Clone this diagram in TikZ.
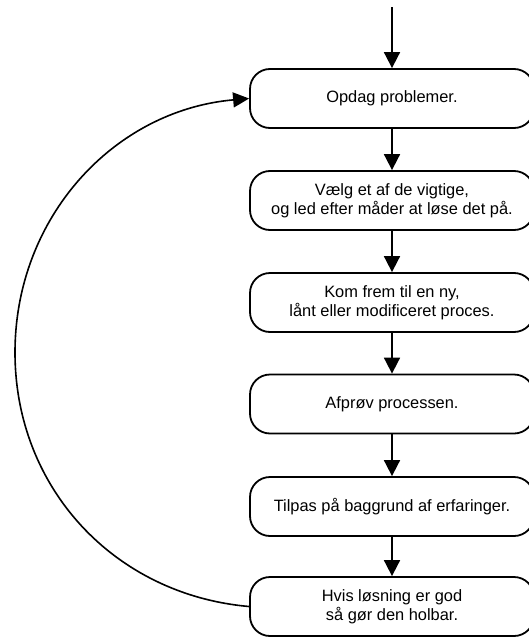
\documentclass[tikz,border=0pt]{standalone}
\usepackage{fontspec}
\setmainfont{Liberation Sans}
\usetikzlibrary{arrows.meta}
\begin{document}
\begin{tikzpicture}[x=1pt,y=-1pt,
  stepbox/.style={draw, line width=1.8pt, rounded corners=20pt,
    minimum width=284pt, minimum height=59pt, align=center,
    font=\fontsize{16.4pt}{18.6pt}\selectfont, inner sep=0pt},
  flow/.style={line width=1.8pt, -{Triangle[length=16pt,width=16pt]}},
  loop/.style={line width=1.6pt, -{Triangle[length=16pt,width=15pt]}}]
\clip (0,0) rectangle (529,637);
\useasboundingbox (0,0) rectangle (529,637);
% process steps
\node[stepbox] (b1) at (392,98.5)  {Opdag problemer.};
\node[stepbox] (b2) at (392,200.5) {Vælg et af de vigtige,\\og led efter måder at løse det på.};
\node[stepbox] (b3) at (392,302.5) {Kom frem til en ny,\\lånt eller modificeret proces.};
\node[stepbox] (b4) at (392,404)   {Afprøv processen.};
\node[stepbox] (b5) at (392,506.5) {Tilpas på baggrund af erfaringer.};
\node[stepbox] (b6) at (392,606.5) {Hvis løsning er god\\så gør den holbar.};
% entry and flow arrows
\coordinate (start) at (392,7);
\draw[flow] (start) -- (b1.north);
\draw[flow] (b1.south) -- (b2.north);
\draw[flow] (b2.south) -- (b3.north);
\draw[flow] (b3.south) -- (b4.north);
\draw[flow] (b4.south) -- (b5.north);
\draw[flow] (b5.south) -- (b6.north);
% feedback loop back to the first step
\coordinate (lft) at (15,352.5);
\draw[loop] (b6.west) to[out=175,in=-90] (lft) to[out=90,in=185] (b1.west);
\end{tikzpicture}
\end{document}
